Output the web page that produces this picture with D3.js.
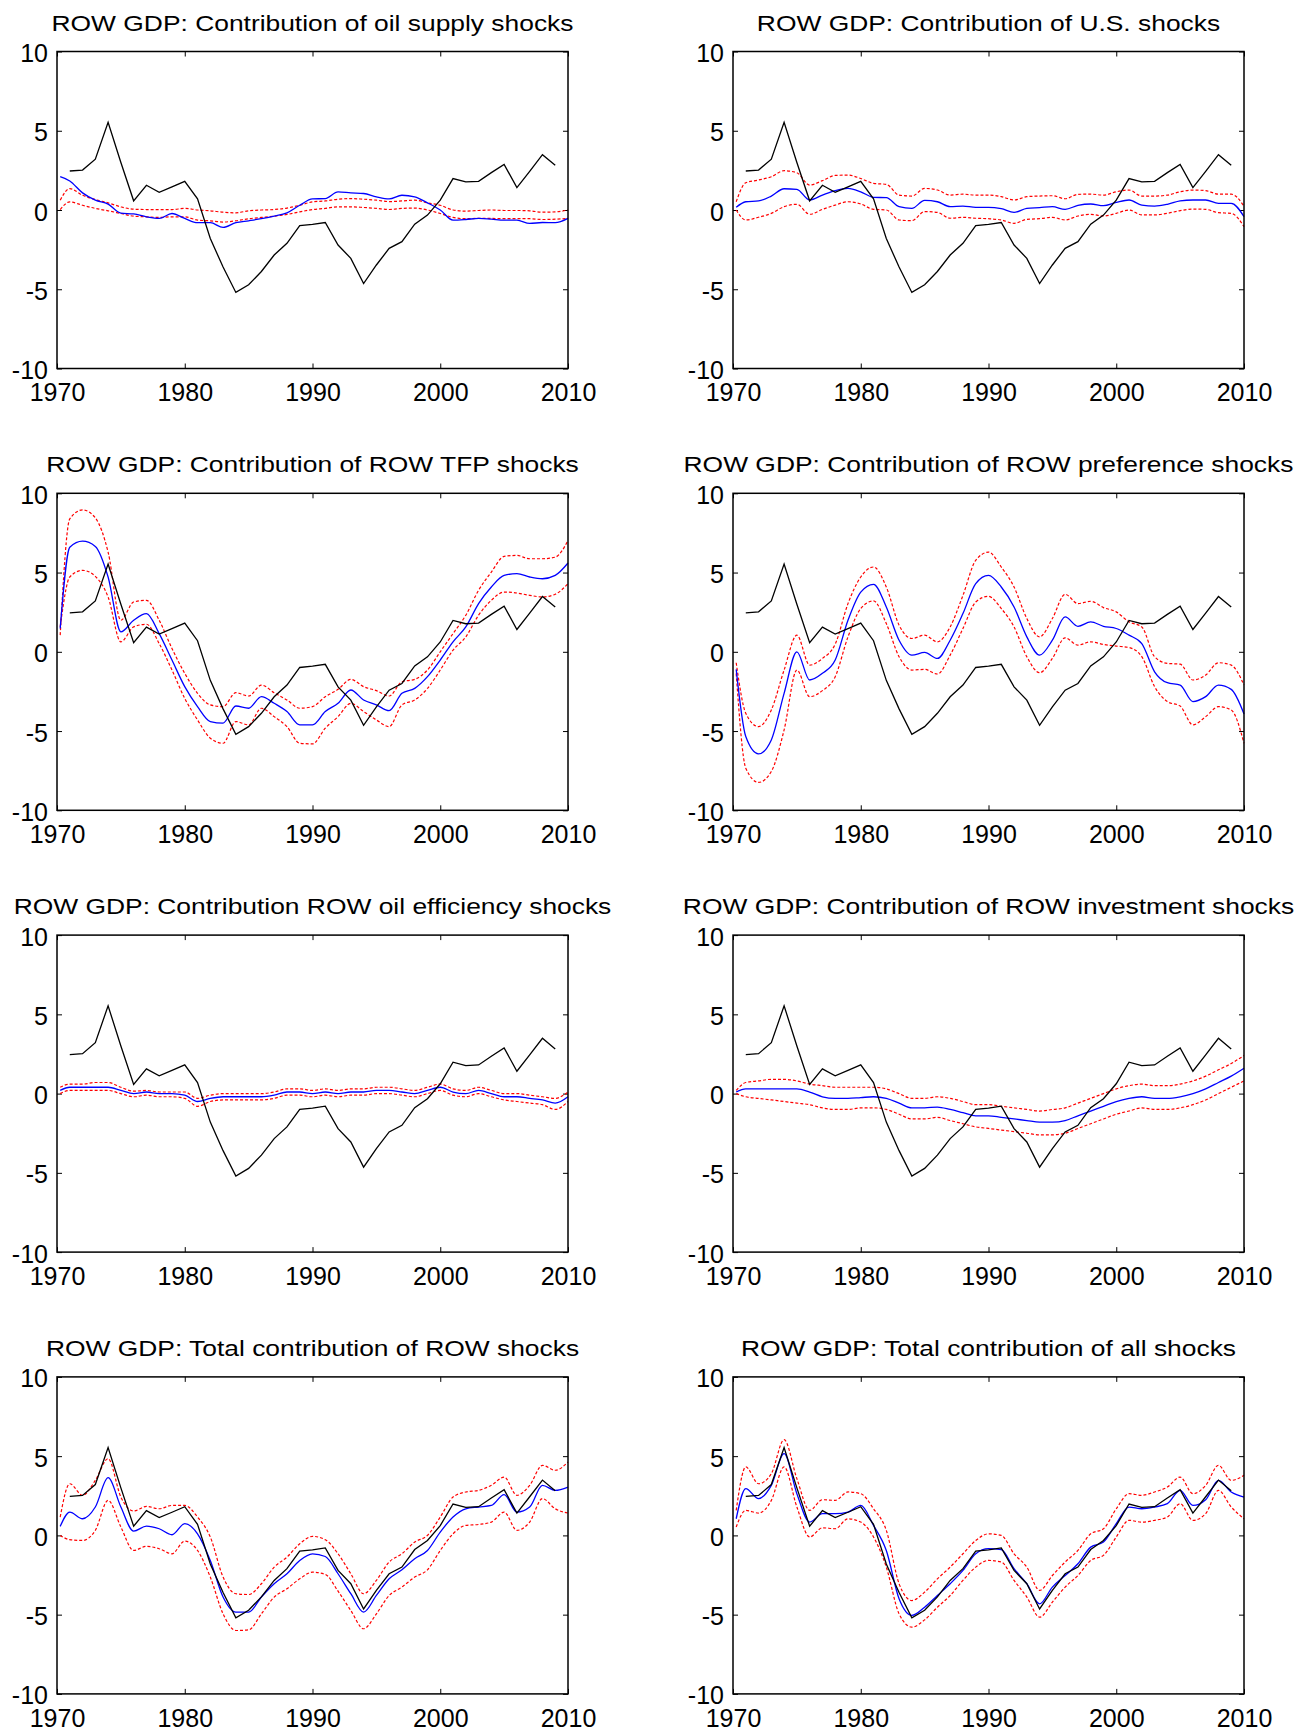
<!DOCTYPE html>
<html>
<head>
<meta charset="utf-8">
<script src="https://cdn.jsdelivr.net/npm/d3@7"></script>
<style>
  body { margin: 0; background: #fff; }
  svg { display: block; font-family: "Liberation Sans", Arial, sans-serif; }
  .frame { fill: none; stroke: #000; stroke-width: 1.5; }
  .axis path { display: none; }
  .axis line { stroke: #000; stroke-width: 1; }
  .axis text { font-size: 25px; fill: #000; }
</style>
</head>
<body>
<div id="chart"></div>
<script>
// years on the x axis
const X_TICKS = [1970, 1980, 1990, 2000, 2010];
const Y_TICKS = [-10, -5, 0, 5, 10];

// actual ROW GDP growth (annual, black line)
const ACTUAL_YEARS = d3.range(1971, 2010);
const ACTUAL_GDP = [2.46, 2.52, 3.21, 5.54, 3.0, 0.58, 1.56, 1.12, 1.46, 1.81,
  0.70, -1.8, -3.6, -5.2, -4.72, -3.88, -2.84, -2.10, -0.99, -0.91,
  -0.79, -2.21, -3.05, -4.64, -3.47, -2.42, -2.0, -0.89, -0.32, 0.62,
  1.98, 1.77, 1.81, 2.36, 2.88, 1.41, 2.44, 3.49, 2.82];

// time points of the model series (blue + red bands)
const MODEL_YEARS = [1970.25].concat(d3.range(1971, 2011));

// oil supply shocks
const OIL_MEAN = [2.1, 1.83, 1.08, 0.62, 0.37, -0.2, -0.25, -0.43, -0.53, -0.22, -0.53,
  -0.8, -0.8, -1.1, -0.8, -0.68, -0.55, -0.39, -0.18, 0.3, 0.7,
  0.72, 1.14, 1.08, 1.04, 0.83, 0.7, 0.93, 0.83, 0.45, 0.0,
  -0.64, -0.6, -0.53, -0.58, -0.64, -0.64, -0.85, -0.79, -0.8, -0.53];
const OIL_HI = [0.62, 1.35, 0.93, 0.66, 0.45, 0.2, 0.05, 0.03, 0.03, 0.03, 0.1,
  0.0, -0.05, -0.14, -0.18, -0.05, 0.0, 0.03, 0.12, 0.3, 0.51,
  0.57, 0.68, 0.72, 0.68, 0.62, 0.53, 0.57, 0.62, 0.45, 0.3,
  0.0, -0.07, -0.03, 0.0, -0.03, -0.03, -0.05, -0.14, -0.12, 0.0];
const OIL_LO = [0.03, 0.51, 0.3, 0.1, -0.05, -0.22, -0.39, -0.43, -0.47, -0.43, -0.43,
  -0.64, -0.68, -0.76, -0.68, -0.55, -0.47, -0.39, -0.28, -0.12, 0.03,
  0.1, 0.2, 0.2, 0.16, 0.1, 0.03, 0.1, 0.12, 0.0, -0.22,
  -0.47, -0.55, -0.53, -0.53, -0.55, -0.55, -0.55, -0.6, -0.58, -0.53];

// U.S. shocks
const US_MEAN = [0.17, 0.52, 0.57, 0.88, 1.34, 1.3, 0.63, 0.94, 1.22, 1.36, 1.15,
  0.8, 0.78, 0.21, 0.1, 0.61, 0.52, 0.21, 0.25, 0.17, 0.17,
  0.08, -0.15, 0.1, 0.15, 0.21, 0.04, 0.29, 0.38, 0.27, 0.48,
  0.63, 0.31, 0.25, 0.36, 0.57, 0.63, 0.63, 0.42, 0.42, -0.42];
const US_HI = [0.52, 1.72, 1.89, 2.1, 2.48, 2.35, 1.57, 1.85, 2.18, 2.2, 1.99,
  1.68, 1.62, 0.94, 0.88, 1.36, 1.26, 0.94, 1.0, 0.94, 0.94,
  0.84, 0.63, 0.84, 0.88, 0.9, 0.71, 0.99, 1.0, 0.94, 1.15,
  1.26, 0.88, 0.88, 0.94, 1.15, 1.26, 1.22, 1.0, 1.0, 0.25];
const US_LO = [0.0, -0.63, -0.46, -0.21, 0.21, 0.36, -0.27, 0.04, 0.31, 0.52, 0.38,
  0.04, 0.0, -0.63, -0.67, -0.1, -0.15, -0.52, -0.46, -0.52, -0.55,
  -0.63, -0.84, -0.59, -0.55, -0.46, -0.63, -0.38, -0.27, -0.38, -0.21,
  0.0, -0.31, -0.31, -0.21, -0.04, 0.06, 0.04, -0.17, -0.21, -1.05];

// ROW TFP shocks
const TFP_MEAN = [1.47, 6.6, 6.98, 6.65, 4.72, 1.26, 1.99, 2.41, 1.15, -0.52, -2.2,
  -3.46, -4.4, -4.5, -3.42, -3.56, -2.83, -3.25, -3.77, -4.61, -4.61,
  -3.77, -3.25, -2.41, -3.04, -3.35, -3.71, -2.62, -2.31, -1.57, -0.52,
  0.63, 1.57, 3.04, 4.09, 4.82, 4.93, 4.72, 4.61, 4.82, 5.6];
const TFP_HI = [1.05, 8.39, 8.95, 8.45, 6.29, 1.99, 3.14, 3.25, 1.99, 0.21, -1.36,
  -2.62, -3.35, -3.46, -2.58, -2.79, -2.1, -2.58, -3.04, -3.56, -3.46,
  -2.83, -2.37, -1.74, -2.2, -2.45, -2.79, -1.89, -1.74, -1.15, 0.0,
  1.15, 2.31, 3.88, 5.03, 6.02, 6.08, 5.87, 5.87, 5.97, 7.02];
const TFP_LO = [1.57, 4.72, 5.14, 4.76, 3.46, 0.63, 1.57, 1.74, 0.52, -1.15, -2.94,
  -4.3, -5.45, -5.77, -4.4, -4.61, -3.56, -4.09, -4.72, -5.77, -5.81,
  -4.82, -4.09, -3.25, -3.77, -4.3, -4.72, -3.35, -3.04, -2.31, -1.15,
  0.1, 0.94, 2.31, 3.25, 3.77, 3.71, 3.56, 3.46, 3.63, 4.3];

// ROW preference shocks
const PREF_MEAN = [-1.11, -5.35, -6.44, -5.56, -2.62, 0.0, -1.78, -1.36, -0.52, 1.99, 3.77,
  4.26, 2.83, 0.73, -0.21, -0.04, -0.42, 0.73, 2.41, 4.3, 4.82,
  4.09, 2.83, 0.94, -0.21, 0.73, 2.2, 1.61, 1.89, 1.61, 1.47,
  1.05, 0.52, -1.26, -1.95, -2.1, -3.14, -2.83, -2.1, -2.37, -3.92];
const PREF_HI = [-0.69, -3.88, -4.72, -3.67, -1.15, 1.05, -0.84, -0.42, 0.48, 3.04, 4.72,
  5.35, 4.09, 1.68, 0.84, 1.05, 0.63, 1.57, 3.56, 5.77, 6.29,
  5.35, 4.09, 2.1, 0.94, 2.1, 3.63, 3.04, 3.19, 2.79, 2.52,
  1.89, 1.57, -0.31, -0.73, -0.78, -1.78, -1.47, -0.69, -0.84, -2.1];
const PREF_LO = [-1.36, -7.34, -8.24, -7.55, -4.93, -1.15, -2.83, -2.45, -1.57, 0.94, 2.73,
  3.21, 1.78, -0.31, -1.15, -1.11, -1.4, -0.21, 1.47, 3.14, 3.5,
  2.73, 1.57, -0.31, -1.32, -0.42, 0.88, 0.42, 0.63, 0.46, 0.36,
  0.27, -0.31, -2.2, -3.14, -3.42, -4.61, -4.09, -3.46, -3.67, -5.77];

// ROW oil efficiency shocks
const EFF_MEAN = [0.2, 0.4, 0.4, 0.4, 0.4, 0.2, 0.0, 0.1, 0.0, 0.0, -0.1,
  -0.5, -0.3, -0.2, -0.2, -0.2, -0.2, -0.1, 0.1, 0.1, 0.0,
  0.1, 0.0, 0.1, 0.1, 0.2, 0.2, 0.1, 0.0, 0.2, 0.4,
  0.1, 0.0, 0.2, 0.0, -0.2, -0.2, -0.3, -0.4, -0.6, -0.2];
const EFF_HI = [0.4, 0.6, 0.6, 0.7, 0.7, 0.4, 0.15, 0.2, 0.1, 0.1, 0.1,
  -0.3, -0.1, 0.0, 0.0, 0.0, 0.0, 0.1, 0.3, 0.3, 0.2,
  0.3, 0.2, 0.3, 0.3, 0.4, 0.4, 0.3, 0.2, 0.4, 0.6,
  0.3, 0.2, 0.4, 0.2, 0.0, 0.0, -0.1, -0.2, -0.3, 0.1];
const EFF_LO = [0.0, 0.2, 0.2, 0.2, 0.2, 0.0, -0.2, -0.1, -0.2, -0.2, -0.3,
  -0.8, -0.5, -0.4, -0.4, -0.4, -0.4, -0.3, -0.1, -0.1, -0.2,
  -0.1, -0.2, -0.1, -0.1, 0.0, 0.0, -0.1, -0.2, 0.0, 0.2,
  -0.1, -0.2, 0.0, -0.2, -0.4, -0.5, -0.6, -0.7, -1.0, -0.5];

// ROW investment shocks
const INV_MEAN = [0.1, 0.3, 0.3, 0.3, 0.3, 0.3, 0.1, -0.2, -0.3, -0.3, -0.25,
  -0.2, -0.3, -0.6, -0.9, -0.9, -0.85, -1.0, -1.2, -1.4, -1.4,
  -1.5, -1.6, -1.7, -1.8, -1.8, -1.7, -1.4, -1.1, -0.8, -0.5,
  -0.3, -0.2, -0.3, -0.3, -0.2, 0.0, 0.3, 0.7, 1.1, 1.6];
const INV_HI = [0.2, 0.7, 0.8, 0.9, 0.9, 0.8, 0.6, 0.5, 0.4, 0.4, 0.4,
  0.4, 0.3, 0.0, -0.3, -0.3, -0.2, -0.3, -0.5, -0.7, -0.7,
  -0.8, -0.9, -1.0, -1.1, -1.0, -0.9, -0.6, -0.3, 0.0, 0.3,
  0.5, 0.6, 0.5, 0.5, 0.6, 0.8, 1.1, 1.5, 1.9, 2.4];
const INV_LO = [0.0, -0.2, -0.3, -0.4, -0.5, -0.6, -0.7, -0.9, -1.0, -1.0, -0.9,
  -0.9, -1.0, -1.3, -1.6, -1.6, -1.5, -1.7, -1.9, -2.1, -2.2,
  -2.3, -2.4, -2.5, -2.6, -2.6, -2.5, -2.2, -1.9, -1.6, -1.3,
  -1.1, -0.9, -1.0, -1.0, -0.9, -0.7, -0.4, 0.0, 0.4, 0.8];

// total of ROW shocks
const ROW_MEAN = [0.57, 1.47, 1.05, 1.79, 3.64, 1.79, 0.27, 0.59, 0.42, 0.04, 0.74,
  0.1, -1.58, -3.89, -4.84, -4.84, -3.89, -3.05, -2.42, -1.58, -1.16,
  -1.33, -2.42, -3.68, -4.84, -3.79, -2.74, -2.17, -1.47, -0.95, 0.21,
  1.16, 1.68, 1.79, 1.89, 2.57, 1.47, 1.79, 3.16, 2.84, 3.05];
const ROW_HI = [1.16, 3.26, 2.53, 3.47, 4.84, 2.42, 1.54, 1.83, 1.68, 1.89, 1.89,
  1.16, -0.1, -2.63, -3.68, -3.73, -3.05, -2.0, -1.37, -0.53, -0.06,
  -0.27, -1.16, -2.42, -3.68, -2.84, -1.68, -1.16, -0.42, 0.0, 1.16,
  2.42, 2.74, 2.84, 3.16, 3.68, 2.53, 3.16, 4.42, 4.11, 4.63];
const ROW_LO = [0.0, -0.27, -0.32, 0.32, 2.21, 0.53, -0.95, -0.69, -0.84, -1.16, -0.36,
  -0.95, -2.63, -4.95, -6.0, -5.96, -4.95, -3.89, -3.37, -2.74, -2.32,
  -2.46, -3.52, -4.74, -5.89, -4.95, -3.79, -3.26, -2.63, -2.17, -0.95,
  0.1, 0.63, 0.69, 0.84, 1.47, 0.32, 0.84, 2.32, 1.68, 1.41];

// total of all shocks
const ALL_MEAN = [1.05, 2.95, 2.32, 3.16, 5.16, 2.63, 0.84, 1.37, 1.37, 1.47, 1.89,
  0.63, -0.95, -4.0, -5.05, -4.53, -3.79, -3.05, -2.21, -1.16, -0.84,
  -0.9, -2.1, -3.05, -4.32, -3.26, -2.53, -1.79, -0.74, -0.42, 0.74,
  1.79, 1.68, 1.79, 2.0, 2.84, 1.89, 2.25, 3.47, 2.74, 2.42];
const ALL_HI = [1.58, 4.32, 3.26, 3.89, 6.04, 3.58, 1.58, 2.25, 2.21, 2.74, 2.63,
  1.68, 0.32, -3.05, -4.11, -3.58, -2.74, -2.0, -1.16, -0.32, 0.1,
  0.0, -1.16, -2.0, -3.47, -2.53, -1.68, -0.95, 0.1, 0.42, 1.68,
  2.63, 2.53, 2.74, 3.05, 3.68, 2.63, 3.16, 4.42, 3.47, 3.79];
const ALL_LO = [0.53, 1.58, 1.41, 2.21, 4.32, 1.79, -0.1, 0.48, 0.42, 1.05, 0.84,
  -0.1, -2.0, -4.95, -5.79, -5.33, -4.53, -3.79, -2.84, -2.0, -1.58,
  -1.68, -2.84, -3.89, -5.16, -4.21, -3.26, -2.53, -1.58, -1.26, -0.1,
  0.95, 0.84, 0.95, 1.16, 2.0, 0.95, 1.37, 2.84, 1.79, 1.05];

const TITLES = [
  "ROW GDP: Contribution of oil supply shocks",
  "ROW GDP: Contribution of U.S. shocks",
  "ROW GDP: Contribution of ROW TFP shocks",
  "ROW GDP: Contribution of ROW preference shocks",
  "ROW GDP: Contribution ROW oil efficiency shocks",
  "ROW GDP: Contribution of ROW investment shocks",
  "ROW GDP: Total contribution of ROW shocks",
  "ROW GDP: Total contribution of all shocks"
];

/** Panels: title plus the three model series */
const panels = [
  [OIL_MEAN, OIL_HI, OIL_LO], [US_MEAN, US_HI, US_LO],
  [TFP_MEAN, TFP_HI, TFP_LO], [PREF_MEAN, PREF_HI, PREF_LO],
  [EFF_MEAN, EFF_HI, EFF_LO], [INV_MEAN, INV_HI, INV_LO],
  [ROW_MEAN, ROW_HI, ROW_LO], [ALL_MEAN, ALL_HI, ALL_LO]
].map((s, i) => ({ title: TITLES[i], mean: s[0], hi: s[1], lo: s[2] }));

const W = 1312, H = 1731;
const colX = [57, 733];
const rowY = [51.5, 493.3, 935.1, 1376.9];
const pw = 511, ph = 317;

const svg = d3.select("#chart").append("svg")
  .attr("width", W)
  .attr("height", H);

svg.append("rect").attr("width", W).attr("height", H).attr("fill", "#fff");

const x = d3.scaleLinear().domain([1970, 2010]).range([0, pw]);
const y = d3.scaleLinear().domain([-10, 10]).range([ph, 0]);

const modelLine = d3.line()
  .x((d) => x(d[0]))
  .y((d) => y(d[1]))
  .curve(d3.curveMonotoneX);
const actualLine = d3.line()
  .x((d) => x(d[0]))
  .y((d) => y(d[1]));

const tickFmt = (d) => String(d);

panels.forEach(function(p, i) {
  const g = svg.append("g")
    .attr("transform", "translate(" + colX[i % 2] + "," + rowY[Math.floor(i / 2)] + ")");

  // title (the original lettering is a bit wider than the font)
  g.append("text")
    .attr("transform", "translate(" + (pw / 2) + ",-21) scale(1.2,1)")
    .attr("text-anchor", "middle")
    .style("font-size", "22px")
    .text(p.title);

  // axes, ticks pointing inward
  g.append("g").attr("class", "axis")
    .attr("transform", "translate(0," + ph + ")")
    .call(d3.axisBottom(x).tickValues(X_TICKS).tickSize(-5).tickPadding(15).tickFormat(tickFmt));
  g.append("g").attr("class", "axis")
    .call(d3.axisTop(x).tickValues(X_TICKS).tickSize(-5).tickFormat(""));
  g.append("g").attr("class", "axis")
    .call(d3.axisLeft(y).tickValues(Y_TICKS).tickSize(-5).tickPadding(9).tickFormat(tickFmt))
    .selectAll("text").attr("dy", "0.4em");
  g.append("g").attr("class", "axis")
    .attr("transform", "translate(" + pw + ",0)")
    .call(d3.axisRight(y).tickValues(Y_TICKS).tickSize(-5).tickFormat(""));

  // bands
  [p.hi, p.lo].forEach(function(band) {
    g.append("path")
      .datum(MODEL_YEARS.map((t, k) => [t, band[k]]))
      .attr("fill", "none")
      .attr("stroke", "#ff0000")
      .attr("stroke-width", 1.2)
      .attr("stroke-dasharray", "3,2")
      .attr("d", modelLine);
  });

  // model mean
  g.append("path")
    .datum(MODEL_YEARS.map((t, k) => [t, p.mean[k]]))
    .attr("fill", "none")
    .attr("stroke", "#0000ff")
    .attr("stroke-width", 1.3)
    .attr("d", modelLine);

  // actual data
  g.append("path")
    .datum(ACTUAL_YEARS.map((t, k) => [t, ACTUAL_GDP[k]]))
    .attr("fill", "none")
    .attr("stroke", "#000")
    .attr("stroke-width", 1.3)
    .attr("d", actualLine);

  // frame
  g.append("rect")
    .attr("class", "frame")
    .attr("width", pw)
    .attr("height", ph);
});
</script>
</body>
</html>
